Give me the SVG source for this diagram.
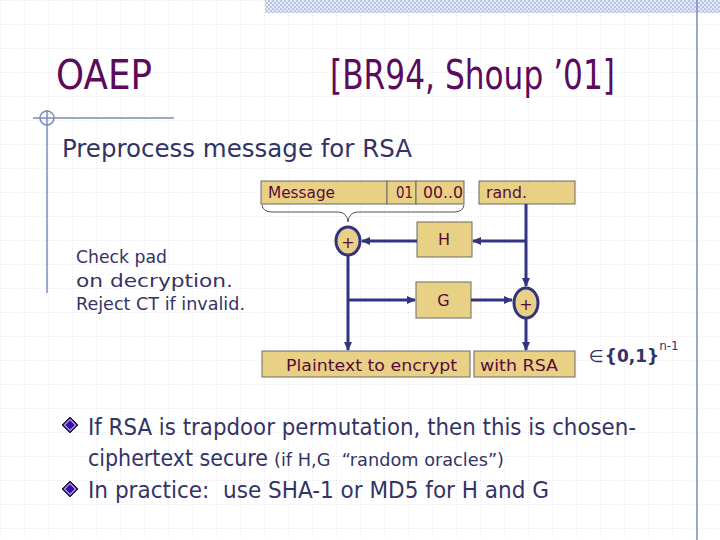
<svg xmlns="http://www.w3.org/2000/svg" width="720" height="540" viewBox="0 0 720 540">
<style>
.title{font-family:"DejaVu Sans",Verdana,sans-serif;font-size:40px;fill:#5c0a5c}
.body{font-family:"DejaVu Sans",Verdana,sans-serif;fill:#333366;white-space:pre}
.box{fill:#e8d084;stroke:#6a6a6a;stroke-width:1}
.btxt{font-family:"DejaVu Sans",Verdana,sans-serif;font-size:16px;fill:#5a0a3a}
.xor{fill:#e8d084;stroke:#333380;stroke-width:3}
.conn{fill:none;stroke:#333380;stroke-width:3}
.deco{fill:none;stroke:#7d8bb8;stroke-width:1.5}
</style>
<defs>
<pattern id="grid" width="24" height="24" patternUnits="userSpaceOnUse">
<path d="M0,0 H24 M0,0 V24" fill="none" stroke="#cdd0da" stroke-width="1" stroke-dasharray="1,2"/>
</pattern>
<pattern id="check" width="4" height="4" patternUnits="userSpaceOnUse">
<rect width="4" height="4" fill="#e2e8f5"/>
<rect width="2" height="2" fill="#b9c6e4"/>
<rect x="2" y="2" width="2" height="2" fill="#b9c6e4"/>
</pattern>
<marker id="arr" markerWidth="10" markerHeight="10" refX="8" refY="5" orient="auto" markerUnits="userSpaceOnUse">
<path d="M0,1 L9,5 L0,9 Z" fill="#333380"/>
</marker>
<g id="diamond">
<path d="M0,-8 L8,0 L0,8 L-8,0 Z" fill="#2a1a8c" stroke="#20204a" stroke-width="1"/>
<path d="M0,-5.5 L5.5,0 L0,5.5 L-5.5,0 Z" fill="#3a10a0" stroke="#ffffff" stroke-width="1"/>
</g>
</defs>

<rect width="720" height="540" fill="#ffffff"/>
<rect width="720" height="540" fill="url(#grid)"/>

<g id="decoration">
<rect x="265" y="0" width="455" height="13" fill="url(#check)"/>
<line class="deco" x1="697" y1="0" x2="697" y2="540"/>
<line class="deco" x1="33" y1="118" x2="174" y2="118"/>
<circle class="deco" cx="47" cy="118" r="7"/>
<line class="deco" x1="47" y1="110" x2="47" y2="293"/>
</g>

<g id="titles">
<text class="title" x="56" y="89" textLength="96" lengthAdjust="spacingAndGlyphs">OAEP</text>
<text class="title" x="330" y="89" textLength="285" lengthAdjust="spacingAndGlyphs">[BR94, Shoup ’01]</text>
<text class="body" x="62" y="157" font-size="25" textLength="350" lengthAdjust="spacingAndGlyphs">Preprocess message for RSA</text>
</g>

<g id="note">
<text class="body" font-size="17.5" x="76" y="263" textLength="91" lengthAdjust="spacingAndGlyphs">Check pad</text>
<text class="body" font-size="17.5" x="76" y="287" textLength="157" lengthAdjust="spacingAndGlyphs">on decryption.</text>
<text class="body" font-size="17.5" x="76" y="310" textLength="169" lengthAdjust="spacingAndGlyphs">Reject CT if invalid.</text>
</g>

<g id="message">
<rect class="box" x="261" y="181" width="126" height="23"/>
<text class="btxt" x="268" y="198" textLength="67" lengthAdjust="spacingAndGlyphs">Message</text>
</g>
<g id="pad01">
<rect class="box" x="387" y="181" width="29" height="23"/>
<text class="btxt" x="396" y="198" textLength="17" lengthAdjust="spacingAndGlyphs">01</text>
</g>
<g id="pad00">
<rect class="box" x="416" y="181" width="48" height="23"/>
<text class="btxt" x="423" y="198" textLength="40" lengthAdjust="spacingAndGlyphs">00..0</text>
</g>
<g id="rand">
<rect class="box" x="479" y="181" width="96" height="23"/>
<text class="btxt" x="486" y="198" textLength="41" lengthAdjust="spacingAndGlyphs">rand.</text>
</g>
<g id="brace">
<path d="M262,205 Q263,212 272,212 H338 Q347,212 348,222 Q349,212 358,212 H454 Q463,212 464,205" fill="none" stroke="#555555" stroke-width="1"/>
</g>

<g id="xor1">
<ellipse class="xor" cx="348" cy="241" rx="12" ry="14"/>
<text class="btxt" x="348" y="248" font-size="20" text-anchor="middle">+</text>
</g>
<g id="H">
<rect class="box" x="417" y="222" width="55" height="35"/>
<text class="btxt" x="444" y="245" text-anchor="middle">H</text>
</g>
<g id="G">
<rect class="box" x="416" y="282" width="55" height="36"/>
<text class="btxt" x="443.5" y="306" text-anchor="middle">G</text>
</g>
<g id="xor2">
<ellipse class="xor" cx="526" cy="303" rx="12" ry="15"/>
<text class="btxt" x="526" y="310" font-size="20" text-anchor="middle">+</text>
</g>

<g id="plaintext">
<rect class="box" x="262" y="351" width="208" height="26"/>
<text class="btxt" x="286" y="371" font-size="19" textLength="171" lengthAdjust="spacingAndGlyphs">Plaintext to encrypt</text>
</g>
<g id="withrsa">
<rect class="box" x="474" y="351" width="101" height="26"/>
<text class="btxt" x="480" y="371" font-size="19" textLength="78" lengthAdjust="spacingAndGlyphs">with RSA</text>
</g>

<g id="domain">
<text class="body" x="589" y="362" font-size="17">∈<tspan font-weight="bold" dx="1">{0,1}</tspan><tspan font-size="12" dy="-12">n-1</tspan></text>
</g>

<g id="connectors">
<path class="conn" d="M526,204 V286" marker-end="url(#arr)"/>
<path class="conn" d="M526,241 H473" marker-end="url(#arr)"/>
<path class="conn" d="M417,241 H362" marker-end="url(#arr)"/>
<path class="conn" d="M348,256 V350" marker-end="url(#arr)"/>
<path class="conn" d="M348,300 H415" marker-end="url(#arr)"/>
<path class="conn" d="M471,300 H512" marker-end="url(#arr)"/>
<path class="conn" d="M526,319 V350" marker-end="url(#arr)"/>
</g>

<g id="bullets">
<use href="#diamond" x="70" y="425"/>
<text class="body" x="88" y="435" font-size="23" textLength="548" lengthAdjust="spacingAndGlyphs">If RSA is trapdoor permutation, then this is chosen-</text>
<text class="body" x="88" y="466" font-size="23"><tspan textLength="180" lengthAdjust="spacingAndGlyphs">ciphertext secure</tspan><tspan font-size="17.5" dx="6" textLength="230" lengthAdjust="spacingAndGlyphs">(if H,G  “random oracles”)</tspan></text>
<use href="#diamond" x="70" y="489"/>
<text class="body" x="88" y="498" font-size="23" textLength="461" lengthAdjust="spacingAndGlyphs">In practice:  use SHA-1 or MD5 for H and G</text>
</g>
</svg>
